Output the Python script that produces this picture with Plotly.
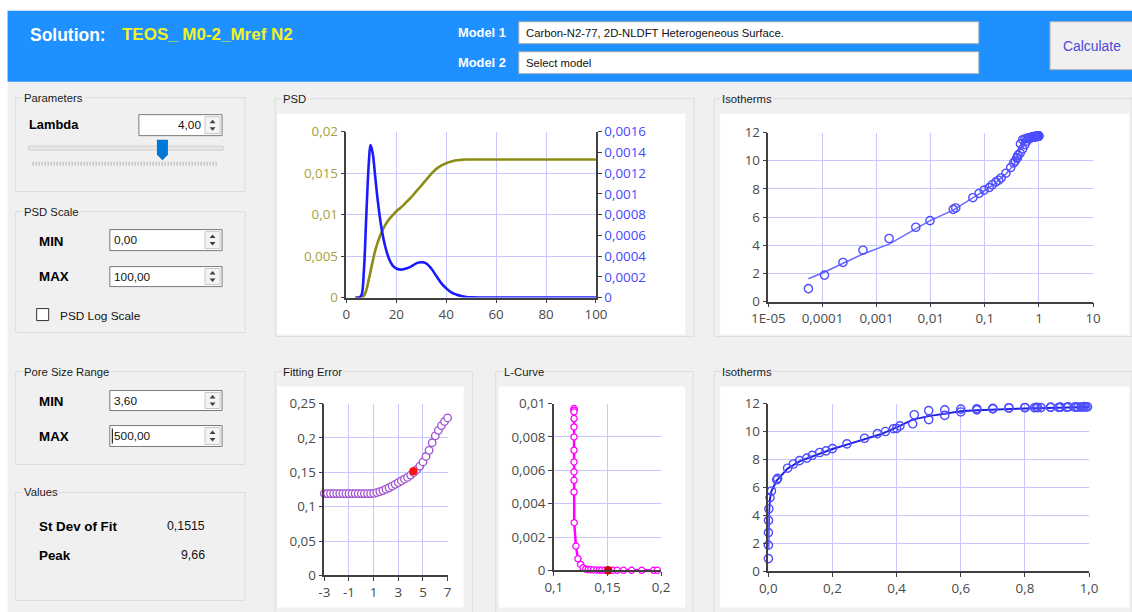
import plotly.graph_objects as go

# ---------------- data ----------------
psd_x = [3.6, 5.0, 6.0, 7.0, 8.0, 9.0, 9.66, 10.5, 11.5, 12.5, 14, 15.5, 17, 18.5, 20, 22, 24, 26, 28, 30,
         32, 34, 36, 38, 40, 42, 44, 46, 48, 50, 55, 60, 70, 80, 90, 100]
psd_diff = [0, 0, 0.00002, 0.00025, 0.0008, 0.0013, 0.00147, 0.0014, 0.00118, 0.00095, 0.00068, 0.0005,
            0.00038, 0.00031, 0.00028, 0.00027, 0.00028, 0.0003, 0.00033, 0.00034, 0.00033, 0.00028,
            0.00021, 0.00014, 0.00009, 0.00005, 0.00003, 0.000015, 0.000006, 0.000002, 0, 0, 0, 0, 0, 0]
psd_cum = [0, 0, 0, 0.0002, 0.0009, 0.0022, 0.0031, 0.0043, 0.0056, 0.0066, 0.0078, 0.0087, 0.0094, 0.0099,
           0.0104, 0.0109, 0.0115, 0.0121, 0.0128, 0.0135, 0.0142, 0.0149, 0.0155, 0.0159, 0.0162, 0.0164,
           0.01655, 0.0166, 0.01664, 0.01665, 0.01665, 0.01665, 0.01665, 0.01665, 0.01665, 0.01665]

p_ads = [5.5e-5, 1.09e-4, 2.39e-4, 5.6e-4, 1.7e-3, 5.3e-3, 9.7e-3, 0.026, 0.029, 0.06, 0.078, 0.097, 0.12,
         0.137, 0.16, 0.18, 0.2, 0.245, 0.30, 0.34, 0.365, 0.39, 0.40, 0.41, 0.45, 0.50, 0.55, 0.60, 0.65,
         0.70, 0.75, 0.80, 0.83, 0.84, 0.85, 0.88, 0.905, 0.91, 0.93, 0.955, 0.965, 0.975, 0.98, 0.99, 0.995]
n_ads = [0.92, 1.88, 2.78, 3.65, 4.48, 5.28, 5.75, 6.55, 6.65, 7.38, 7.68, 7.92, 8.1, 8.3, 8.5, 8.62, 8.78,
         9.12, 9.52, 9.85, 10.0, 10.2, 10.22, 10.4, 10.55, 10.85, 11.15, 11.4, 11.55, 11.62, 11.68, 11.7,
         11.7, 11.71, 11.71, 11.72, 11.72, 11.73, 11.73, 11.74, 11.74, 11.75, 11.75, 11.75, 11.76]
p_des = [0.455, 0.50, 0.55, 0.60, 0.65, 0.70, 0.75, 0.80, 0.835, 0.88, 0.91, 0.935, 0.96, 0.985]
n_des = [11.2, 11.5, 11.55, 11.6, 11.63, 11.66, 11.7, 11.72, 11.73, 11.74, 11.75, 11.76, 11.77, 11.78]
p_fit = [5.5e-5, 1.1e-4, 2.4e-4, 5.6e-4, 1.7e-3, 5.3e-3, 0.0097, 0.026, 0.06, 0.1, 0.15, 0.2, 0.25, 0.3,
         0.35, 0.4, 0.45, 0.5, 0.55, 0.6, 0.65, 0.7, 0.8, 0.9, 1.0]
n_fit = [1.62, 2.1, 2.72, 3.38, 4.08, 5.2, 5.75, 6.5, 7.35, 7.9, 8.35, 8.75, 9.1, 9.45, 9.8, 10.3, 10.85,
         11.1, 11.3, 11.45, 11.52, 11.58, 11.65, 11.7, 11.75]

fe_x = [-3.0, -2.75, -2.5, -2.25, -2.0, -1.75, -1.5, -1.25, -1.0, -0.75, -0.5, -0.25, 0.0, 0.25, 0.5, 0.75,
        1.0, 1.25, 1.5, 1.75, 2.0, 2.25, 2.5, 2.75, 3.0, 3.25, 3.5, 3.75, 4.0, 4.25, 4.5, 4.75, 5.0, 5.25,
        5.5, 5.75, 6.0, 6.25, 6.5, 6.75, 7.0]
fe_y = [0.119, 0.119, 0.119, 0.119, 0.119, 0.119, 0.119, 0.119, 0.119, 0.119, 0.119, 0.119, 0.119, 0.119,
        0.119, 0.119, 0.1195, 0.1205, 0.122, 0.1235, 0.1255, 0.1275, 0.13, 0.1325, 0.135, 0.1375, 0.14,
        0.1425, 0.146, 0.1495, 0.154, 0.159, 0.165, 0.173, 0.182, 0.193, 0.203, 0.211, 0.218, 0.224, 0.229]
fe_sel_x = [4.22]
fe_sel_y = [0.1515]

lc_x = [0.1188, 0.1188, 0.1188, 0.1188, 0.1188, 0.1188, 0.1188, 0.1188, 0.1188, 0.1188, 0.1188, 0.1190,
        0.1206, 0.1225, 0.1250, 0.1272, 0.1297, 0.1320, 0.1344, 0.1370, 0.1400, 0.1425, 0.1447, 0.1475,
        0.1506, 0.1547, 0.1590, 0.1650, 0.1725, 0.1820, 0.1930, 0.1965]
lc_y = [0.0097, 0.0096, 0.0095, 0.0091, 0.0086, 0.0080, 0.0072, 0.0065, 0.0059, 0.0054, 0.0047, 0.00286,
        0.00146, 0.0007, 0.00036, 0.00016, 0.00008, 0.00005, 0.00004, 0.00003, 0.00003, 0.00002, 0.00002,
        0.00002, 0.00002, 0.00001, 0.00001, 0.00001, 0.00001, 0.00001, 0.00001, 0.00001]
lc_sel_x = [0.1506]
lc_sel_y = [0.00002]

psd_xt = [0, 20, 40, 60, 80, 100]
psd_yl = [0, 0.005, 0.01, 0.015, 0.02]
psd_yl_txt = ["0", "0,005", "0,01", "0,015", "0,02"]
psd_yr = [0, 0.0002, 0.0004, 0.0006, 0.0008, 0.001, 0.0012, 0.0014, 0.0016]
psd_yr_txt = ["0", "0,0002", "0,0004", "0,0006", "0,0008", "0,001", "0,0012", "0,0014", "0,0016"]
iso_log_t = [1e-5, 1e-4, 1e-3, 1e-2, 1e-1, 1, 10]
iso_log_txt = ["1E-05", "0,0001", "0,001", "0,01", "0,1", "1", "10"]
iso_yt = [0, 2, 4, 6, 8, 10, 12]
fe_xt = [-3, -1, 1, 3, 5, 7]
fe_yt = [0, 0.05, 0.1, 0.15, 0.2, 0.25]
fe_yt_txt = ["0", "0,05", "0,1", "0,15", "0,2", "0,25"]
lc_xt = [0.1, 0.15, 0.2]
lc_xt_txt = ["0,1", "0,15", "0,2"]
lc_yt = [0, 0.002, 0.004, 0.006, 0.008, 0.01]
lc_yt_txt = ["0", "0,002", "0,004", "0,006", "0,008", "0,01"]
iso_lin_t = [0, 0.2, 0.4, 0.6, 0.8, 1.0]
iso_lin_txt = ["0,0", "0,2", "0,4", "0,6", "0,8", "1,0"]

# ---------------- helpers ----------------
# Positions below are given in screen pixels of the target picture; the photographed page shows the
# figure slightly shrunk and offset, so every position is mapped through that observed transform.
W, H = 1132, 612
AXX, SXX = 17.4, 0.973
AYY, SYY = 9.3, 0.971
FS = 1 / 0.972
GUI = "Liberation Sans, Arial, sans-serif"
TICKF = "Open Sans, sans-serif"
BG = "#f0f0f0"


def px(x):
    return ((x - AXX) / SXX) / W


def py(y):
    return 1 - ((y - AYY) / SYY) / H


shapes = []
annotations = []


def rect(x0, y0, x1, y1, fill, line=None, lw=1):
    shapes.append(dict(type="rect", xref="paper", yref="paper", x0=px(x0), x1=px(x1), y0=py(y1), y1=py(y0),
                       fillcolor=fill, line=dict(color=line if line else fill, width=lw if line else 0),
                       layer="below"))


def path(pts, fill, line=None):
    d = "M " + " L ".join(f"{px(a)},{py(b)}" for a, b in pts) + " Z"
    shapes.append(dict(type="path", xref="paper", yref="paper", path=d, fillcolor=fill,
                       line=dict(color=line if line else fill, width=1 if line else 0), layer="below"))


def line(x0, y0, x1, y1, color, w=1, dash=None):
    ln = dict(color=color, width=w)
    if dash:
        ln["dash"] = dash
    shapes.append(dict(type="line", xref="paper", yref="paper", x0=px(x0), x1=px(x1), y0=py(y0), y1=py(y1),
                       line=ln, layer="below"))


def text(x, y, s, size=12, color="#000000", bold=False, anchor="left", family=GUI, bg=None):
    a = dict(xref="paper", yref="paper", x=px(x), y=py(y), text=f"<b>{s}</b>" if bold else s,
             showarrow=False, xanchor=anchor, yanchor="middle",
             font=dict(size=size * FS, color=color, family=family))
    if bg:
        a["bgcolor"] = bg
        a["borderpad"] = 1
    annotations.append(a)


def group(x0, y0, x1, y1, title, open_bottom=False):
    if open_bottom:
        line(x0, y0, x1, y0, "#dcdcdc", 1)
        line(x0, y0, x0, y1, "#dcdcdc", 1)
        line(x1, y0, x1, y1, "#dcdcdc", 1)
    else:
        rect(x0, y0, x1, y1, "rgba(0,0,0,0)", "#dcdcdc", 1)
    text(x0 + 6, y0, title, size=11, color="#1a1a1a", bg=BG)


def spinbox(x0, y0, x1, y1, val, align="left"):
    rect(x0, y0, x1, y1, "#ffffff", "#7a7a7a", 1)
    rect(x1 - 17, y0 + 2, x1 - 2, y1 - 2, "#f4f4f4", "#c8c8c8", 1)
    cx = x1 - 9.5
    cy = (y0 + y1) / 2
    path([(cx - 3, cy - 2), (cx + 3, cy - 2), (cx, cy - 5.5)], "#404040")
    path([(cx - 3, cy + 2), (cx + 3, cy + 2), (cx, cy + 5.5)], "#404040")
    if align == "left":
        text(x0 + 2, cy, val, size=11.5, color="#111111")
    else:
        text(x1 - 19, cy, val, size=11.5, color="#111111", anchor="right")


# ---------------- GUI chrome ----------------
rect(-30, -30, 1160, 11, "#ffffff")
rect(-30, -30, 8, 640, "#ffffff")
rect(8, 11, 1160, 82, "#1e90ff")
text(28, 35, "Solution:", size=17, color="#ffffff", bold=True)
text(120, 35, "TEOS_ M0-2_Mref N2", size=16.5, color="#f2f21e", bold=True)
text(455, 33, "Model 1", size=12.5, color="#ffffff", bold=True)
text(455, 63, "Model 2", size=12.5, color="#ffffff", bold=True)
rect(518, 22, 977, 44, "#ffffff", "#9aa8b8", 1)
rect(518, 52, 977, 74, "#ffffff", "#9aa8b8", 1)
text(523, 33.5, "Carbon-N2-77, 2D-NLDFT Heterogeneous Surface.", size=11, color="#111111")
text(523, 63.5, "Select model", size=11, color="#111111")
rect(1048, 22, 1160, 70, "#f0f0f0", "#adadad", 1)
text(1090, 46, "Calculate", size=13.5, color="#4b4bd6", anchor="center")

# Left panel
group(16, 98, 245, 192, "Parameters")
text(27, 125, "Lambda", size=12.5, bold=True)
spinbox(139, 115, 222, 136, "4,00", align="right")
rect(29, 146.5, 223, 150.5, "#e7e7e7", "#d0d0d0", 1)
line(33, 164, 218, 164, "#b4b4b4", 4, "1px,2px")
path([(157, 140), (168, 140), (168, 155), (162.5, 160.5), (157, 155)], "#0078d7")

group(16, 212, 245, 333, "PSD Scale")
text(37, 242, "MIN", size=13, bold=True)
spinbox(110, 230, 222, 251, "0,00")
text(37, 277, "MAX", size=13, bold=True)
spinbox(110, 267, 222, 287, "100,00")
rect(37, 309, 49, 321, "#ffffff", "#333333", 1)
text(58, 316, "PSD Log Scale", size=11.5, color="#111111")

group(16, 372, 245, 465, "Pore Size Range")
text(37, 402, "MIN", size=13, bold=True)
spinbox(110, 391, 222, 411, "3,60")
text(37, 437, "MAX", size=13, bold=True)
spinbox(110, 426, 222, 447, "500,00")
line(112.5, 429, 112.5, 444, "#000000", 1)

group(16, 493, 245, 601, "Values")
text(37, 527, "St Dev of Fit", size=13, bold=True)
text(207, 527, "0,1515", size=12, color="#111111", anchor="right")
text(37, 556, "Peak", size=13, bold=True)
text(207, 556, "9,66", size=12, color="#111111", anchor="right")

# chart panels
group(275, 99, 693, 337, "PSD")
rect(277, 114, 684, 335, "#ffffff")
group(713, 99, 1130, 337, "Isotherms")
rect(719, 114, 1127, 335, "#ffffff")
group(275, 372, 472, 640, "Fitting Error", open_bottom=True)
rect(277, 387, 463, 608, "#ffffff")
group(495, 372, 692, 640, "L-Curve", open_bottom=True)
rect(498, 387, 684, 608, "#ffffff")
group(713, 372, 1130, 640, "Isotherms", open_bottom=True)
rect(719, 387, 1127, 608, "#ffffff")

# ---------------- traces ----------------
fig = go.Figure()
fig.add_trace(go.Scatter(x=psd_x, y=psd_cum, mode="lines", line=dict(color="#8c8c14", width=2.6, shape="spline"),
                         xaxis="x", yaxis="y"))
fig.add_trace(go.Scatter(x=psd_x, y=psd_diff, mode="lines", line=dict(color="#1a1aff", width=2.6, shape="spline"),
                         xaxis="x", yaxis="y2"))

fig.add_trace(go.Scatter(x=p_fit, y=n_fit, mode="lines", line=dict(color="#6a6aff", width=1.5),
                         xaxis="x2", yaxis="y3"))
fig.add_trace(go.Scatter(x=p_ads, y=n_ads, mode="markers", cliponaxis=False,
                         marker=dict(symbol="circle-open", size=8.2, color="#4d4dff", line=dict(width=1.4)),
                         xaxis="x2", yaxis="y3"))
fig.add_trace(go.Scatter(x=p_des, y=n_des, mode="markers", cliponaxis=False,
                         marker=dict(symbol="circle-open", size=8.2, color="#4d4dff", line=dict(width=1.4)),
                         xaxis="x2", yaxis="y3"))

fig.add_trace(go.Scatter(x=fe_x, y=fe_y, mode="lines+markers", cliponaxis=False,
                         line=dict(color="#7a2aa0", width=1),
                         marker=dict(symbol="circle", size=7.5, color="#ffffff", line=dict(color="#a050d0", width=1.3)),
                         xaxis="x3", yaxis="y4"))
fig.add_trace(go.Scatter(x=fe_sel_x, y=fe_sel_y, mode="markers", cliponaxis=False,
                         marker=dict(symbol="circle", size=8.5, color="#ff1010"), xaxis="x3", yaxis="y4"))

fig.add_trace(go.Scatter(x=lc_x, y=lc_y, mode="lines+markers", cliponaxis=False,
                         line=dict(color="#ff00ff", width=2.5),
                         marker=dict(symbol="circle", size=6.2, color="#ffffff", line=dict(color="#ff00ff", width=1.3)),
                         xaxis="x4", yaxis="y5"))
fig.add_trace(go.Scatter(x=lc_sel_x, y=lc_sel_y, mode="markers", cliponaxis=False,
                         marker=dict(symbol="circle", size=8.5, color="#cc0000"), xaxis="x4", yaxis="y5"))

fig.add_trace(go.Scatter(x=p_fit, y=n_fit, mode="lines", line=dict(color="#2020e0", width=2),
                         xaxis="x5", yaxis="y6"))
fig.add_trace(go.Scatter(x=p_ads, y=n_ads, mode="markers", cliponaxis=False,
                         marker=dict(symbol="circle-open", size=8.2, color="#4d4dff", line=dict(width=1.4)),
                         xaxis="x5", yaxis="y6"))
fig.add_trace(go.Scatter(x=p_des, y=n_des, mode="markers", cliponaxis=False,
                         marker=dict(symbol="circle-open", size=8.2, color="#4d4dff", line=dict(width=1.4)),
                         xaxis="x5", yaxis="y6"))

# ---------------- axes ----------------
GRID = "#c8c8ff"
AX = "#404040"
TSZ = 13 * FS
TF = dict(family=TICKF, size=TSZ, color="#4a4a4a")


def ax(domain, rng, tv, tt=None, anchor=None, typ="linear", font=TF, grid=True, side=None):
    d = dict(domain=[domain[0], domain[1]], range=rng, tickvals=tv, ticktext=tt if tt else [str(v) for v in tv],
             showgrid=grid, gridcolor=GRID, gridwidth=1, zeroline=False, showline=True, linecolor=AX,
             linewidth=1.5, ticks="outside", ticklen=4, tickcolor=AX, tickwidth=1.2, tickfont=font,
             fixedrange=True, type=typ)
    if anchor:
        d["anchor"] = anchor
    if side:
        d["side"] = side
    return d


def xd(a, b):
    return (px(a), px(b))


def yd(top, bottom):
    return (py(bottom), py(top))


layout = dict(
    width=W, height=H, margin=dict(l=0, r=0, t=0, b=0), paper_bgcolor=BG, plot_bgcolor="#ffffff",
    showlegend=False, shapes=shapes, annotations=annotations,
    xaxis=ax(xd(346, 595), [0, 100], psd_xt, anchor="y"),
    yaxis=ax(yd(132, 298), [0, 0.02], psd_yl, psd_yl_txt, anchor="x",
             font=dict(family=TICKF, size=TSZ, color="#a8a03a")),
    yaxis2=dict(ax(yd(132, 298), [0, 0.0016], psd_yr, psd_yr_txt, anchor="x",
                   font=dict(family=TICKF, size=TSZ, color="#4646ff"), grid=False, side="right"),
                overlaying="y"),
    xaxis2=ax(xd(767, 1091), [-5, 1], iso_log_t, iso_log_txt, anchor="y3", typ="log"),
    yaxis3=ax(yd(133, 302), [0, 12], iso_yt, anchor="x2"),
    xaxis3=ax(xd(324, 447), [-3, 7], fe_xt, anchor="y4"),
    yaxis4=ax(yd(404, 576), [0, 0.25], fe_yt, fe_yt_txt, anchor="x3"),
    xaxis4=ax(xd(553, 660), [0.1, 0.2], lc_xt, lc_xt_txt, anchor="y5"),
    yaxis5=ax(yd(404, 571), [0, 0.01], lc_yt, lc_yt_txt, anchor="x4"),
    xaxis5=ax(xd(767, 1087), [0, 1], iso_lin_t, iso_lin_txt, anchor="y6"),
    yaxis6=ax(yd(404, 572), [0, 12], iso_yt, anchor="x5"),
)
del layout["yaxis2"]["domain"]
fig.update_layout(**layout)
fig.write_html("out.html", config={"displayModeBar": False})
